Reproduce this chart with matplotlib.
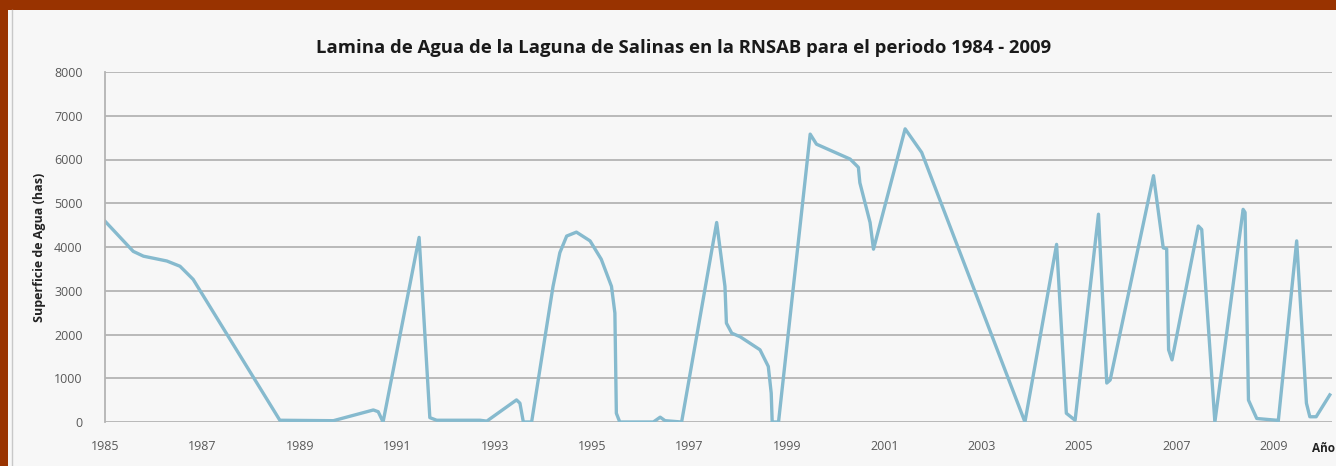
#!/usr/bin/env python3

"""
Lamina de agua de la Laguna de Salinas (RNSAB), 1984 - 2009.
"""

import matplotlib
matplotlib.use("Agg")
import matplotlib.pyplot as plt
from matplotlib.patches import Rectangle

years = [
    1985.00, 1985.58, 1985.79, 1986.27, 1986.54, 1986.81, 1988.59, 1989.69,
    1990.51, 1990.61, 1990.71, 1991.45, 1991.67, 1991.81, 1992.70, 1992.84,
    1993.45, 1993.52, 1993.59, 1993.76, 1994.07, 1994.20, 1994.34, 1994.48,
    1994.68, 1994.96, 1995.19, 1995.40, 1995.47, 1995.50, 1995.57, 1996.26,
    1996.40, 1996.50, 1996.84, 1997.56, 1997.73, 1997.76, 1997.87, 1998.04,
    1998.45, 1998.62, 1998.68, 1998.70, 1998.83, 1999.48, 1999.61, 2000.30,
    2000.47, 2000.50, 2000.71, 2000.78, 2001.43, 2001.77, 2003.89, 2004.54,
    2004.74, 2004.92, 2005.40, 2005.57, 2005.64, 2006.53, 2006.73, 2006.80,
    2006.84, 2006.91, 2007.45, 2007.52, 2007.79, 2008.37, 2008.41, 2008.48,
    2008.65, 2009.06, 2009.09, 2009.47, 2009.67, 2009.74, 2009.87, 2010.15,
]

superficie = [
    4590, 3900, 3790, 3680, 3560, 3260, 40, 30,
    275, 235, 0, 4220, 100, 40, 40, 20,
    505, 430, 0, 0, 2190, 3100, 3870, 4250,
    4340, 4140, 3720, 3100, 2490, 200, 0, 0,
    110, 30, 0, 4560, 3100, 2260, 2030, 1950,
    1650, 1270, 660, 0, 0, 6580, 6350, 6010,
    5820, 5470, 4560, 3950, 6700, 6160, 0, 4060,
    200, 40, 4750, 890, 960, 5630, 3980, 3960,
    1650, 1420, 4480, 4400, 0, 4860, 4790, 500,
    80, 40, 0, 4140, 430, 120, 120, 620,
]

year_ticks = list(range(1985, 2010, 2))

TITLE = "Lamina de Agua de la Laguna de Salinas en la RNSAB para el periodo 1984 - 2009"
YLABEL = "Superficie de Agua (has)"

plt.rcParams["font.family"] = ["Open Sans", "DejaVu Sans"]

W, H = 1336, 466
fig = plt.figure(figsize=(W / 100, H / 100), dpi=100, facecolor="#993300")

# light chart panel inside the brown frame
fig.patches.append(
    Rectangle((8 / W, 0), 1 - 8 / W, (H - 10) / H, transform=fig.transFigure,
              facecolor="#f7f7f7", edgecolor="none", zorder=-2)
)
fig.add_artist(plt.Line2D([11.5 / W, 11.5 / W], [0, (H - 10) / H],
                          transform=fig.transFigure, color="#c8c8c8", lw=1,
                          zorder=-1))

ax = fig.add_axes([105 / W, 44 / H, 1227 / W, 350 / H])
ax.set_zorder(1)
ax.set_facecolor("#f7f7f7")

ax.plot(years, superficie, color="#86bace", linewidth=2.4, solid_joinstyle="round")

ax.set_xlim(1985, 1985 + 1227 / 48.7)
ax.set_ylim(0, 8000)
ax.set_yticks(range(0, 8001, 1000))
ax.set_xticks(year_ticks)
ax.set_xticklabels([str(y) for y in year_ticks])

ax.grid(axis="y", color="#b4b4b4", linewidth=1.3)
ax.set_axisbelow(True)
for side in ("top", "right", "bottom"):
    ax.spines[side].set_visible(False)
ax.spines["left"].set_color("#b4b4b4")
ax.spines["left"].set_linewidth(1.3)

ax.tick_params(axis="both", length=0, labelsize=9, labelcolor="#595959")
ax.tick_params(axis="x", pad=13)
ax.tick_params(axis="y", pad=16)

ax.set_ylabel(YLABEL, fontsize=9, fontweight="bold", color="#222222", labelpad=6)

fig.text(684 / W, 1 - 48 / H, TITLE, ha="center", va="center",
         fontsize=13.3, fontweight="bold", color="#1a1a1a")
# x axis title at the far right, kept inside the image
fig.text(1335 / W, 1 - 449 / H, "Año", ha="right", va="center",
         fontsize=8.5, fontweight="bold", color="#222222")

fig.savefig("out.png", dpi=100, facecolor=fig.get_facecolor())
